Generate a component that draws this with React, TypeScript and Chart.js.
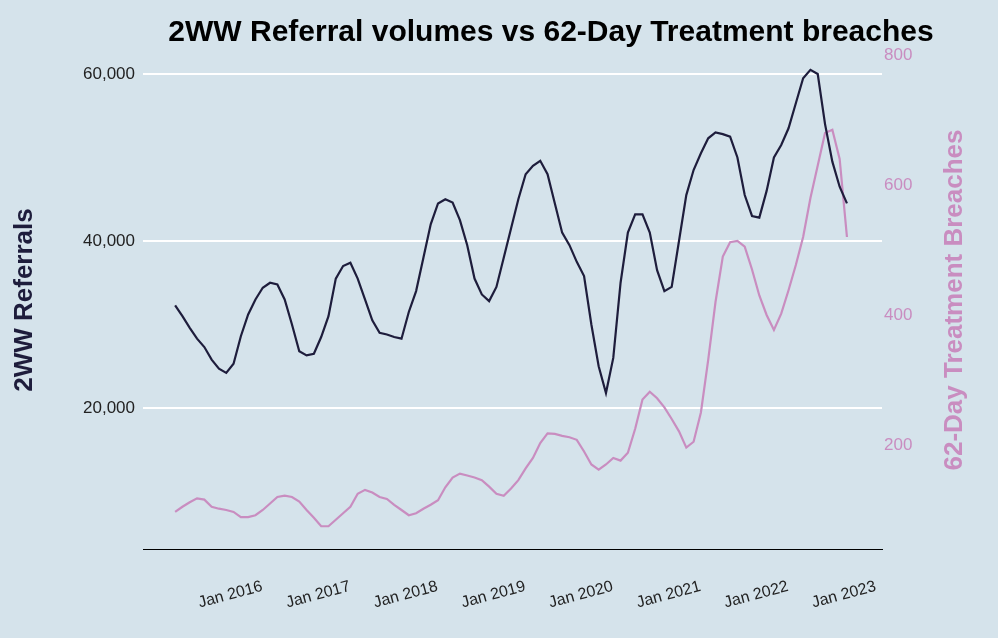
import React, { useEffect, useRef } from "react";
import { Chart, registerables } from "chart.js";
Chart.register(...registerables);

const startYear = 2015;
const startMonth = 5; // June (0-based)
const referrals = [32300,31000,29600,28300,27300,25800,24700,24200,25300,28600,31200,33000,34400,35000,34800,33000,30000,26800,26300,26500,28500,31000,35500,37000,37400,35500,33000,30500,29000,28800,28500,28300,31500,34000,38000,42000,44500,45000,44600,42500,39500,35500,33600,32800,34500,38000,41500,45000,48000,49000,49600,48000,44500,41000,39500,37500,35800,30000,25000,21800,26000,35000,41000,43200,43200,41000,36500,34000,34500,40000,45500,48500,50500,52300,53000,52800,52500,50000,45500,43000,42800,46000,50000,51500,53500,56500,59500,60500,60000,54000,49500,46500,44500];
const breaches = [97,105,112,118,116,105,102,100,97,89,89,92,100,110,120,122,120,113,100,88,75,75,85,95,105,125,131,127,120,117,108,100,92,95,102,108,115,135,150,156,153,150,146,136,125,122,133,146,164,180,203,218,217,214,212,208,190,170,162,170,180,176,188,225,270,282,272,258,240,221,196,205,250,331,420,490,512,514,505,470,430,400,377,402,438,477,520,580,630,680,685,640,520];
const leftTicks = [20000, 40000, 60000];
const rightTicks = [200, 400, 600, 800];

const DARK = "#1e1d3c";
const PINK = "#c98dc0";
const BG = "#d5e3eb";
const FONT = "'Liberation Sans', Arial, sans-serif";

export default function App() {
  const ref = useRef<HTMLCanvasElement>(null);
  useEffect(() => {
    document.body.style.margin = "0";
    const labelOf = (i: number) => {
      const m = startMonth + i;
      return { year: startYear + Math.floor(m / 12), month: m % 12 };
    };
    const janIdx: number[] = [];
    referrals.forEach((_, i) => { if (labelOf(i).month === 0) janIdx.push(i); });
    const textPlugin = {
      id: "texts",
      beforeDraw(c: any) {
        const ctx = c.ctx;
        ctx.save();
        ctx.fillStyle = BG;
        ctx.fillRect(0, 0, c.width, c.height);
        ctx.restore();
      },
      afterDraw(c: any) {
        const ctx = c.ctx;
        const mid = 300;
        ctx.save();
        ctx.textAlign = "center";
        ctx.textBaseline = "middle";
        ctx.fillStyle = "#000";
        ctx.font = "bold 30px " + FONT;
        ctx.fillText("2WW Referral volumes vs 62-Day Treatment breaches", 551, 33);
        ctx.font = "bold 26px " + FONT;
        ctx.fillStyle = DARK;
        ctx.translate(25, mid);
        ctx.rotate(-Math.PI / 2);
        ctx.fillText("2WW Referrals", 0, 0);
        ctx.restore();
        ctx.save();
        ctx.textAlign = "center";
        ctx.textBaseline = "middle";
        ctx.font = "bold 26px " + FONT;
        ctx.fillStyle = PINK;
        ctx.translate(955, mid);
        ctx.rotate(-Math.PI / 2);
        ctx.fillText("62-Day Treatment Breaches", 0, 0);
        ctx.restore();
      },
    };
    const chart = new Chart(ref.current!, {
      type: "line",
      data: {
        datasets: [
          { data: referrals.map((v, i) => ({ x: i, y: v })), borderColor: DARK, borderWidth: 2.2, pointRadius: 0, yAxisID: "y", tension: 0 },
          { data: breaches.map((v, i) => ({ x: i, y: v })), borderColor: PINK, borderWidth: 2.2, pointRadius: 0, yAxisID: "y1", tension: 0 },
        ],
      },
      options: {
        animation: false,
        responsive: false,
        layout: { padding: { top: 52, bottom: 0, left: 0, right: 0 } },
        plugins: { legend: { display: false }, tooltip: { enabled: false } },
        scales: {
          x: {
            type: "linear",
            min: -4.4,
            max: 96.8,
            grid: { display: false, drawTicks: false },
            border: { display: true, color: "#000", width: 1 },
            afterBuildTicks: (s: any) => { s.ticks = janIdx.map((v) => ({ value: v })); },
            afterFit: (s: any) => { s.height = 89; },
            ticks: {
              autoSkip: false,
              minRotation: 15,
              maxRotation: 15,
              labelOffset: 36,
              padding: 28,
              color: "#222",
              font: { family: FONT, size: 16 },
              callback: (v: any) => "Jan " + labelOf(Number(v)).year,
            },
          },
          y: {
            position: "left",
            min: 3114,
            max: 62635,
            grid: { color: "#ffffff", lineWidth: 2, drawTicks: false },
            border: { display: false },
            afterBuildTicks: (s: any) => { s.ticks = leftTicks.map((v) => ({ value: v })); },
            afterFit: (s: any) => { s.width = 143; },
            ticks: {
              padding: 8,
              color: "#222",
              font: { family: FONT, size: 17 },
              callback: (v: any) => Number(v).toLocaleString("en-US"),
            },
          },
          y1: {
            position: "right",
            min: 40,
            max: 804.6,
            grid: { display: false, drawTicks: false },
            border: { display: false },
            afterBuildTicks: (s: any) => { s.ticks = rightTicks.map((v) => ({ value: v })); },
            afterFit: (s: any) => { s.width = 116; },
            ticks: {
              padding: 2,
              color: PINK,
              font: { family: FONT, size: 17 },
            },
          },
        },
      },
      plugins: [textPlugin],
    } as any);
    return () => chart.destroy();
  }, []);
  return <canvas ref={ref} width={998} height={638} style={{ display: "block" }} />;
}
